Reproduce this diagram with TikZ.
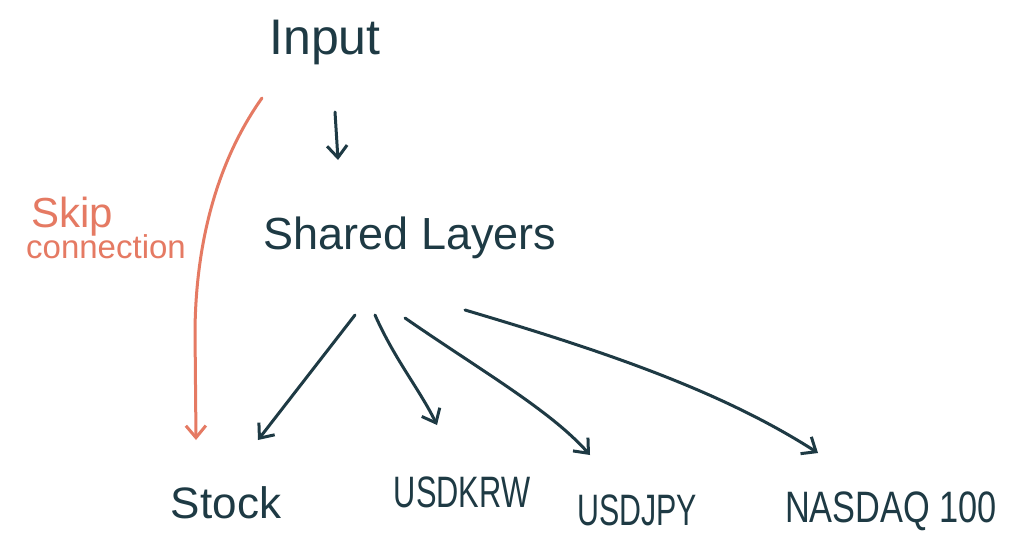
\documentclass[tikz,border=0pt]{standalone}
\usepackage{fontspec}
\setmainfont{Liberation Sans}
\usetikzlibrary{arrows.meta}
\definecolor{ink}{HTML}{1E3A44}
\definecolor{skipc}{HTML}{E57A63}
\tikzset{
  lbl/.style={inner sep=0pt, text=ink},
  conn/.style={draw=ink, line width=3pt, line cap=round, -{Straight Barb[length=12pt,width=20pt,line width=3pt]}},
  skipconn/.style={draw=skipc, line width=3pt, line cap=round, -{Straight Barb[length=12pt,width=20pt,line width=3pt]}}
}
\begin{document}
\begin{tikzpicture}[x=1pt,y=-1pt]
\useasboundingbox[fill=white] (0,0) rectangle (1024,544);
\node[lbl, font=\fontsize{50}{56}\selectfont] (in) at (325,42) {Input};
\node[lbl, font=\fontsize{45}{50}\selectfont] (sh) at (410,238) {Shared Layers};
\node[lbl, text=skipc, align=left, anchor=west] (sk) at (26,228) {\fontsize{42}{42}\selectfont\hspace{5pt}Skip\\[-2pt]\fontsize{33}{36}\selectfont connection};
\node[lbl, font=\fontsize{44}{50}\selectfont] (st) at (226,503) {Stock};
\node[lbl, font=\fontsize{44}{50}\selectfont, xscale=0.7] (kr) at (462,492) {USDKRW};
\node[lbl, font=\fontsize{44}{50}\selectfont, xscale=0.69] (jp) at (637,510) {USDJPY};
\node[lbl, font=\fontsize{44}{50}\selectfont, xscale=0.78] (nq) at (891,511) {NASDAQ 100};
% arrow end points
\coordinate (a0) at (335,112); \coordinate (a1) at (338,160);
\coordinate (s0) at (262,98);
\coordinate (b0) at (355,315); \coordinate (b1) at (258,440);
\coordinate (c0) at (375,315); \coordinate (c1) at (437,425);
\coordinate (d0) at (405,318); \coordinate (d1) at (590,455);
\coordinate (e0) at (465,310); \coordinate (e1) at (818,453);
\coordinate (s1) at (196,440);
\draw[conn] (a0) -- (a1);
\draw[skipconn] (s0) .. controls (218,160) and (196,240) .. (195,330) -- (s1);
\draw[conn] (b0) -- (b1);
\draw[conn] (c0) .. controls (395,360) and (420,390) .. (c1);
\draw[conn] (d0) .. controls (480,370) and (550,410) .. (d1);
\draw[conn] (e0) .. controls (600,350) and (720,390) .. (e1);
\end{tikzpicture}
\end{document}
